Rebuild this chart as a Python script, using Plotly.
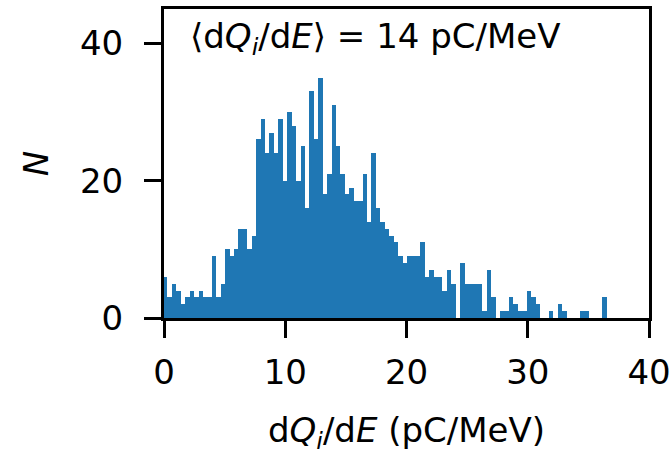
import plotly.graph_objects as go

# Histogram of dQ_i/dE: 100 equal-width bins starting at bin_start
bin_start = -0.08
bin_width = 0.3658
counts = [
    6, 3, 5, 4, 2, 3, 4, 3, 4, 3,
    3, 9, 3, 5, 10, 9, 10, 13, 13, 10,
    12, 26, 29, 24, 27, 24, 29, 20, 30, 28,
    20, 25, 16, 33, 26, 35, 18, 21, 31, 25,
    21, 18, 19, 17, 17, 21, 14, 24, 16, 14,
    13, 12, 11, 9, 8, 9, 9, 9, 11, 6,
    7, 6, 6, 4, 7, 5, 0, 8, 5, 5,
    5, 5, 1, 7, 3, 0, 1, 1, 3, 2,
    1, 1, 4, 3, 2, 0, 0, 1, 0, 2,
    1, 0, 0, 0, 1, 1, 0, 0, 0, 3,
]
centers = [bin_start + (i + 0.5) * bin_width for i in range(len(counts))]

x_ticks = [0, 10, 20, 30, 40]
y_ticks = [0, 20, 40]

FONT = "DejaVu Sans"
FS = 34

fig = go.Figure(
    go.Bar(
        x=centers,
        y=counts,
        width=bin_width,
        marker=dict(color="#1f77b4", line=dict(width=0)),
        hoverinfo="skip",
    )
)

axis_common = dict(
    showline=True,
    linecolor="black",
    linewidth=3,
    mirror=True,
    ticks="outside",
    ticklen=17,
    tickwidth=3,
    tickcolor="black",
    showgrid=False,
    zeroline=False,
    automargin=False,
    ticklabeloverflow="allow",
    tickfont=dict(family=FONT, size=FS, color="black"),
)

fig.update_layout(
    width=671,
    height=455,
    margin=dict(l=164, r=22, t=9, b=137, autoexpand=False),
    paper_bgcolor="white",
    plot_bgcolor="white",
    bargap=0,
    showlegend=False,
    xaxis=dict(
        range=[0, 40],
        tickvals=x_ticks,
        ticktext=[str(v) for v in x_ticks],
        ticklabelstandoff=5,
        title=dict(
            text="d<i>Q</i><sub><i>i</i></sub>/d<i>E</i> (pC/MeV)",
            font=dict(family=FONT, size=FS, color="black"),
            standoff=28,
        ),
        **axis_common,
    ),
    yaxis=dict(
        range=[0, 45],
        tickvals=y_ticks,
        ticktext=[str(v) for v in y_ticks],
        ticklabelstandoff=14,
        title=dict(
            text="<i>N</i>",
            font=dict(family=FONT, size=FS, color="black"),
            standoff=22,
        ),
        **axis_common,
    ),
    annotations=[
        dict(
            text="⟨d<i>Q</i><sub><i>i</i></sub>/d<i>E</i>⟩ = 14 pC/MeV",
            xref="paper",
            yref="paper",
            x=0.05,
            y=0.985,
            xanchor="left",
            yanchor="top",
            showarrow=False,
            font=dict(family=FONT, size=FS, color="black"),
        )
    ],
)

fig.write_html("out.html")
